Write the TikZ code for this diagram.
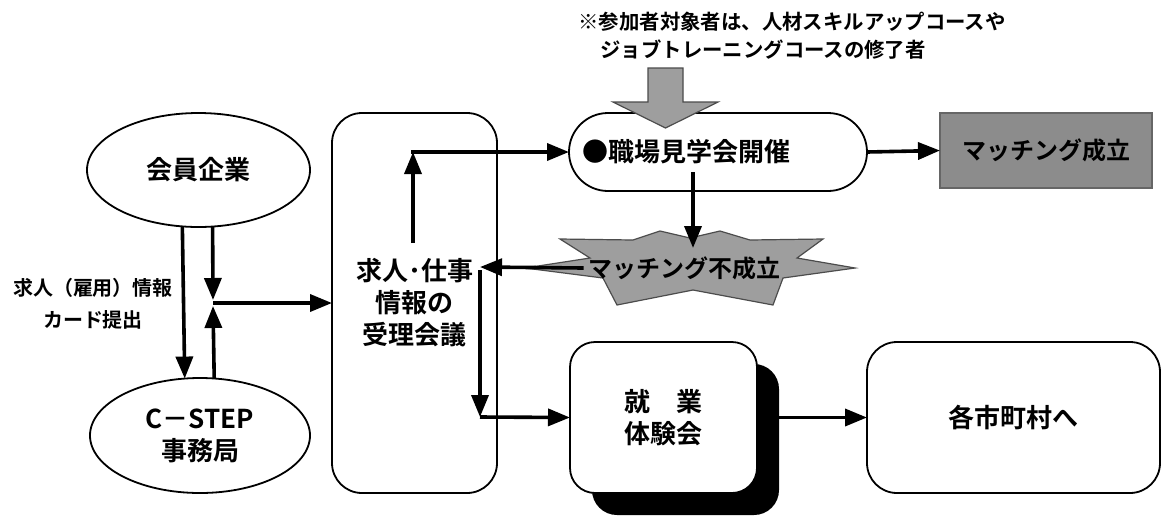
\documentclass[tikz,border=0pt]{standalone}
\usepackage{fontspec}
\setmainfont{Noto Sans CJK JP}[BoldFont={Noto Sans CJK JP Bold}]
\usetikzlibrary{arrows.meta,shapes.geometric,shadows}
\begin{document}
\begin{tikzpicture}[x=0.5pt,y=-0.5pt,
  mainfont/.style={font=\bfseries\fontsize{13}{16}\selectfont},
  box/.style={draw,line width=0.9pt,mainfont,align=center,inner sep=0pt,outer sep=0pt},
  oval/.style={box,ellipse},
  rbox/.style={box,rectangle,rounded corners=#1},
  arr/.style={line width=1.8pt,-{Triangle[length=11pt,width=8.5pt]}},
  ln/.style={line width=1.8pt},
  grayfill/.style={fill=black!38,draw=black!70,line width=0.6pt}]
\useasboundingbox (0,0) rectangle (1163,516);
\fill[white] (0,0) rectangle (1163,516);

% annotation
\node[anchor=north west,align=left,inner sep=0pt,font=\bfseries\fontsize{10.2}{14}\selectfont] (note) at (578,12)
  {※参加者対象者は、人材スキルアップコースや\\\hspace{11pt}ジョブトレーニングコースの修了者};

% left ellipses
\node[oval,minimum width=111.5pt,minimum height=57pt] (kaiin) at (198.5,170) {会員企業};
\node[oval,minimum width=110pt,minimum height=57.5pt] (cstep) at (200,435.5) {C－STEP\\事務局};
\node[inner sep=0pt,align=center,font=\bfseries\fontsize{10}{16}\selectfont] (lbl) at (93,304) {求人（雇用）情報\\カード提出};

% big rounded box
\node[rbox=15pt,minimum width=82.5pt,minimum height=190pt] (juri) at (414.5,303) {求人･仕事\\情報の\\受理会議};

% stadium
\node[box,rectangle,rounded corners=19.5pt,minimum height=39pt,text width=136pt,inner xsep=6.5pt,align=left] (shokuba) at (718,152) {●職場見学会開催};
% gray block arrow
\draw[grayfill] (648,68) -- (683,68) -- (683,102) -- (718,102) -- (665.5,128) -- (613,102) -- (648,102) -- cycle;

% matching success
\node[box,rectangle,fill=black!45,draw=black!60,line width=0.6pt,minimum width=106pt,minimum height=37.5pt,font=\bfseries\fontsize{12}{14}\selectfont] (seiritsu) at (1046,150.5) {マッチング成立};

% star
\draw[grayfill] (525,268) -- (590,258) -- (560,239) -- (633,240) -- (660,231) -- (690,238) -- (720,231) -- (750,240) -- (823,239) -- (797,258) -- (855,268) -- (783,278) -- (773,305) -- (693,290) -- (617,305) -- (603,278) -- cycle;
\node[inner sep=0pt,font=\bfseries\fontsize{12}{14}\selectfont] (fuseiritsu) at (684,268) {マッチング不成立};

% lower boxes
\node[rbox=12.5pt,minimum width=93.5pt,minimum height=75.5pt,fill=white,
  drop shadow={shadow xshift=11pt,shadow yshift=-11pt,fill=black,opacity=1}] (shugyo) at (663.5,417.5) {就　業\\体験会};
\node[rbox=15pt,minimum width=146.5pt,minimum height=75.5pt] (kakushi) at (1013.5,417.5) {各市町村へ};

% coordinates
\coordinate (up1) at (413,243);
\coordinate (up2) at (413,152);
\coordinate (ret) at (480,267);
\coordinate (dn1) at (480,270);
\coordinate (dn2) at (480,417);
\coordinate (jn) at (213,303);
\coordinate (jnA) at (213,300);
\coordinate (jnB) at (213,306);
\coordinate (fsTop) at (693,248);
\coordinate (fsStart) at (693,172);

% left connectors
\draw[arr] (kaiin.254.6) -- (cstep.105.8);
\draw[arr] (kaiin.284.2) -- (jnA);
\draw[arr] (cstep.76.9) -- (jnB);
\draw[arr] (jn) -- (juri.west);

% juri to shokuba
\draw[arr] (up1) -- (up2);
\draw[ln] ([xshift=-0.9pt]up2) -- (up2);
\draw[arr] (up2) -- (shokuba.west);
\draw[arr] (shokuba.east) -- (seiritsu.west);
\draw[arr] (fsStart) -- (fsTop);

% fail back
\draw[arr] ([xshift=-2pt]fuseiritsu.west) -- (ret);
\draw[arr] (dn1) -- (dn2);
\draw[arr] (dn2) -- (shugyo.west);
\draw[arr] ([xshift=11pt]shugyo.east) -- (kakushi.west);
\end{tikzpicture}
\end{document}
